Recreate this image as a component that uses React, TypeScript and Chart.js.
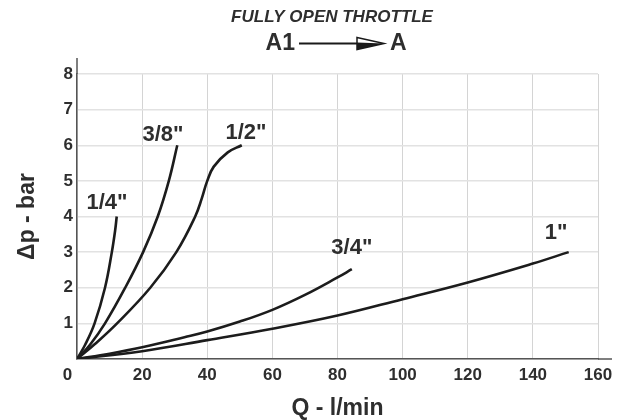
import React, { useEffect, useRef } from "react";
import { Chart, registerables } from "chart.js";

Chart.register(...registerables);

// Flow (l/min) and pressure drop (bar) for each port size
const q14 = [0, 2.5, 5.4, 8.6, 10.7, 11.7, 12.2];
const p14 = [0, 0.4, 1, 2, 3, 3.6, 4];
const q38 = [0, 4, 8.6, 14.8, 20.3, 24.8, 28.2, 30.8];
const p38 = [0, 0.4, 1, 2, 3, 4, 5, 6];
const q12 = [0, 5.5, 12.3, 22.5, 30.5, 36.3, 38.3, 40, 42, 46.3, 50.6];
const p12 = [0, 0.42, 1, 2, 3, 4, 4.5, 5, 5.4, 5.8, 6];
const q34 = [0, 10, 20, 33, 40, 50, 60, 70, 80, 84.4];
const p34 = [0, 0.15, 0.33, 0.61, 0.77, 1.05, 1.38, 1.8, 2.29, 2.52];
const q1 = [0, 20, 40, 60, 80, 100, 120, 140, 151];
const p1 = [0, 0.22, 0.53, 0.85, 1.22, 1.68, 2.15, 2.68, 3.0];

// Curve labels, anchored in data space
const labelNames = ['1/4"', '3/8"', '1/2"', '3/4"', '1"'];
const labelQ = [9.2, 26.4, 51.9, 84.4, 147.1];
const labelP = [4.38, 6.29, 6.35, 3.12, 3.54];

const titleText = "FULLY OPEN THROTTLE";
const fromPort = "A1";
const toPort = "A";
const xTitle = "Q - l/min";
const yTitle = "\u0394p - bar";

const FONT = "'Liberation Sans', Arial, sans-serif";
const LINE = "#1c1c1c";
const TEXT = "#2e2e2e";

function pts(q: number[], p: number[]) {
  return q.map((v, i) => ({ x: v, y: p[i] }));
}

const decorPlugin = {
  id: "decor",
  afterDraw(chart: any) {
    const ctx = chart.ctx as CanvasRenderingContext2D;
    const xs = chart.scales.x;
    const ys = chart.scales.y;
    ctx.save();
    // axis extensions
    ctx.strokeStyle = "#555";
    ctx.lineWidth = 1.5;
    ctx.beginPath();
    ctx.moveTo(xs.left, ys.getPixelForValue(8));
    ctx.lineTo(xs.left, ys.getPixelForValue(8.45));
    ctx.moveTo(xs.getPixelForValue(160), ys.bottom);
    ctx.lineTo(xs.getPixelForValue(164.3), ys.bottom);
    ctx.stroke();

    // curve labels
    ctx.fillStyle = TEXT;
    ctx.font = `bold 22px ${FONT}`;
    ctx.textAlign = "center";
    ctx.textBaseline = "middle";
    labelNames.forEach((n, i) => {
      ctx.fillText(n, xs.getPixelForValue(labelQ[i]), ys.getPixelForValue(labelP[i]));
    });

    // title
    ctx.font = `italic bold 17px ${FONT}`;
    ctx.fillText(titleText, 332, 17);
    ctx.font = `bold 23px ${FONT}`;
    ctx.textAlign = "right";
    ctx.fillText(fromPort, 295, 44);
    ctx.textAlign = "left";
    ctx.fillText(toPort, 390, 44);
    // arrow
    const ay = 43.5;
    ctx.strokeStyle = "#1a1a1a";
    ctx.lineWidth = 2;
    ctx.beginPath();
    ctx.moveTo(299, ay);
    ctx.lineTo(357, ay);
    ctx.stroke();
    ctx.lineWidth = 1.5;
    ctx.beginPath();
    ctx.moveTo(357, ay - 6);
    ctx.lineTo(384, ay);
    ctx.lineTo(357, ay + 6);
    ctx.closePath();
    ctx.stroke();
    ctx.fillStyle = "#1a1a1a";
    ctx.beginPath();
    ctx.moveTo(357, ay - 1);
    ctx.lineTo(384, ay);
    ctx.lineTo(357, ay + 6);
    ctx.closePath();
    ctx.fill();
    ctx.restore();
  },
};

export default function App() {
  const ref = useRef<HTMLCanvasElement | null>(null);
  useEffect(() => {
    if (!ref.current) return;
    const ds = (q: number[], p: number[]) => ({
      data: pts(q, p),
      borderColor: LINE,
      borderWidth: 2.6,
      pointRadius: 0,
      fill: false,
      tension: 0.4,
    });
    const chart = new Chart(ref.current, {
      type: "line",
      data: {
        datasets: [ds(q14, p14), ds(q38, p38), ds(q12, p12), ds(q34, p34), ds(q1, p1)],
      },
      plugins: [decorPlugin],
      options: {
        responsive: false,
        animation: false,
        events: [],
        layout: { padding: { left: 0, right: 31, top: 74, bottom: 0 } },
        plugins: { legend: { display: false }, tooltip: { enabled: false } },
        scales: {
          x: {
            type: "linear",
            min: 0,
            max: 160,
            ticks: {
              stepSize: 20,
              padding: 6,
              color: TEXT,
              font: { family: FONT, size: 17, weight: "bold" },
              callback: (v: any) => (Number(v) === 0 ? "0    " : String(v)),
              maxRotation: 0,
            },
            grid: { color: "#d4d4d4", lineWidth: 1, drawTicks: false },
            border: { color: "#555", width: 1.5 },
            title: {
              display: true,
              text: xTitle,
              color: TEXT,
              font: { family: FONT, size: 23, weight: "bold" },
              padding: { top: 0, bottom: -2 },
            },
            afterFit: (s: any) => {
              s.height = 61;
            },
          },
          y: {
            type: "linear",
            min: 0,
            max: 8,
            ticks: {
              stepSize: 1,
              padding: 4,
              color: TEXT,
              font: { family: FONT, size: 17, weight: "bold" },
              callback: (v: any) => (Number(v) === 0 ? "" : String(v)),
            },
            grid: { color: "#e2e2e2", lineWidth: 1.5, drawTicks: false },
            border: { color: "#555", width: 1.5 },
            title: {
              display: true,
              text: yTitle,
              color: TEXT,
              font: { family: FONT, size: 23, weight: "bold" },
              padding: { top: 14, bottom: 0 },
            },
            afterFit: (s: any) => {
              s.width = 77;
            },
          },
        },
      },
    });
    return () => chart.destroy();
  }, []);
  return (
    <div style={{ position: "fixed", left: 0, top: 0, width: 629, height: 420, background: "#fff" }}>
      <canvas ref={ref} width={629} height={420} />
    </div>
  );
}
